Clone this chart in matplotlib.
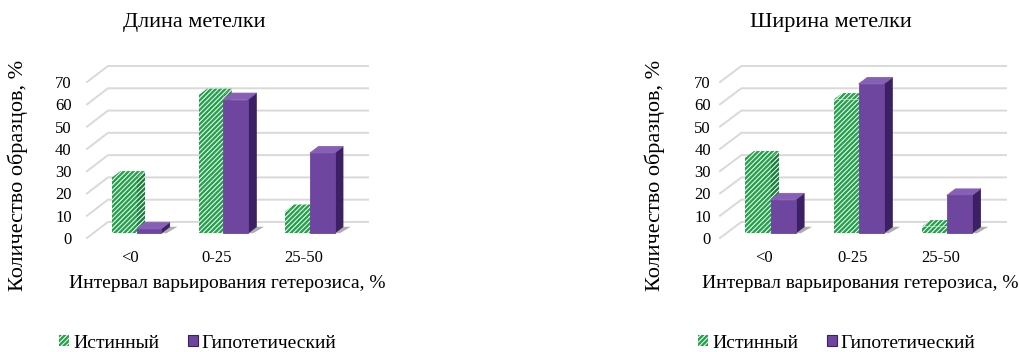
"""
plot.py — two pseudo-3D column charts (heterosis intervals)
"""

import matplotlib.pyplot as plt
from matplotlib.patches import Polygon, Patch

plt.rcParams["font.family"] = ["Liberation Serif", "DejaVu Serif"]
plt.rcParams["hatch.linewidth"] = 1.7

categories = ["<0", "0-25", "25-50"]
series_names = ["Истинный", "Гипотетический"]
yticks = [0, 10, 20, 30, 40, 50, 60, 70]

length_true = [25, 62, 10]
length_hyp = [2, 60, 36]
width_true = [34, 60, 3]
width_hyp = [15, 67, 17]

W, H = 1019, 352
GREEN = "#22a24a"
GREEN_DARK = "#17803a"
PURPLE = "#6e46a0"
PURPLE_SIDE = "#3c2064"
PURPLE_TOP = "#8660b4"
GRID = "#d9d9d9"
HATCH = "///////"

DX, DY = 0.242, 7.2        # full floor depth (data units)
F0, F1 = 0.3, 0.7           # bar depth span (fraction of floor depth)
BW = 0.284                  # bar width


def depth(x, y, f):
    return x + f * DX, y + f * DY


def prism(ax, x0, h, hatched):
    x1 = x0 + BW
    side = [depth(x1, 0, F0), depth(x1, h, F0), depth(x1, h, F1), depth(x1, 0, F1)]
    top = [depth(x0, h, F0), depth(x1, h, F0), depth(x1, h, F1), depth(x0, h, F1)]
    foot = [depth(x0 + 0.05, 0, F0), depth(x1 + 0.06, 0, F0),
            depth(x1 + 0.09, 0, F1), depth(x0 + 0.05, 0, F1)]
    ax.add_patch(Polygon(foot, closed=True, fc="#8c8c8c", ec="none", alpha=0.7, zorder=2))
    if hatched:
        ax.add_patch(Polygon(side, closed=True, fc="white", ec=GREEN_DARK, lw=0,
                             hatch=HATCH, zorder=3))
        ax.add_patch(Polygon(top, closed=True, fc="white", ec=GREEN, lw=0,
                             hatch=HATCH, zorder=3))
        ax.bar(x0 + F0 * DX, h, bottom=F0 * DY, width=BW, align="edge",
               color="white", edgecolor=GREEN, linewidth=0, hatch=HATCH, zorder=4)
    else:
        ax.add_patch(Polygon(side, closed=True, fc=PURPLE_SIDE, ec=PURPLE_SIDE, lw=0.6,
                             joinstyle="round", zorder=3))
        ax.add_patch(Polygon(top, closed=True, fc=PURPLE_TOP, ec=PURPLE_TOP, lw=0.6,
                             joinstyle="round", zorder=3))
        ax.bar(x0 + F0 * DX, h, bottom=F0 * DY, width=BW, align="edge",
               color=PURPLE, edgecolor=PURPLE, linewidth=0.6, zorder=4)


def draw_panel(fig, x_left, x_right, true_vals, hyp_vals, title, ypad,
               title_x, ylab_x, xlab_x, leg_x):
    ax = fig.add_axes([x_left / W, (H - 238) / H, (x_right - x_left) / W, (238 - 66) / H])
    n = len(categories)
    ax.set_xlim(-0.5, n - 0.5 + DX)
    ax.set_ylim(0, 70 + DY)
    for s in ax.spines.values():
        s.set_visible(False)

    # walls: gridlines on side wall and back wall
    for v in yticks:
        p0 = (-0.5, v)
        p1 = depth(-0.5, v, 1)
        p2 = depth(n - 0.5, v, 1)
        ax.plot([p0[0], p1[0], p2[0]], [p0[1], p1[1], p2[1]], color=GRID, lw=1.4,
                zorder=1, clip_on=False)

    for i in range(n):
        prism(ax, i - BW, true_vals[i], True)
        prism(ax, i, hyp_vals[i], False)

    ax.set_yticks(yticks)
    ax.set_yticklabels([str(v) for v in yticks], fontsize=12)
    ax.set_xticks(range(n))
    ax.set_xticklabels(categories, fontsize=12)
    ax.tick_params(axis="y", length=0, pad=ypad)
    ax.tick_params(axis="x", length=0, pad=9)

    fig.text(title_x / W, 1 - 22 / H, title, fontsize=16, ha="center", va="center")
    fig.text(ylab_x / W, 1 - 175 / H, "Количество образцов, %", fontsize=16,
             rotation=90, ha="center", va="center")
    fig.text(xlab_x / W, 1 - 284 / H, "Интервал варьирования гетерозиса, %",
             fontsize=14, ha="center", va="center")

    handles = [Patch(facecolor="white", edgecolor=GREEN, linewidth=0, hatch=HATCH),
               Patch(facecolor=PURPLE, edgecolor=PURPLE_SIDE, linewidth=0.8)]
    fig.legend(handles, series_names, loc="center", bbox_to_anchor=(leg_x / W, 1 - 343 / H),
               ncol=2, frameon=False, fontsize=14, handlelength=0.5, handleheight=0.5,
               handletextpad=0.2, columnspacing=1.5, borderpad=0)
    return ax


fig = plt.figure(figsize=(W / 100, H / 100), dpi=100)

draw_panel(fig, 87, 368, length_true, length_hyp, "Длина метелки", 11,
           title_x=194, ylab_x=18, xlab_x=227, leg_x=198)
draw_panel(fig, 720, 1006, width_true, width_hyp, "Ширина метелки", 6.5,
           title_x=831, ylab_x=655, xlab_x=860, leg_x=837)

fig.savefig("out.png", dpi=100)
